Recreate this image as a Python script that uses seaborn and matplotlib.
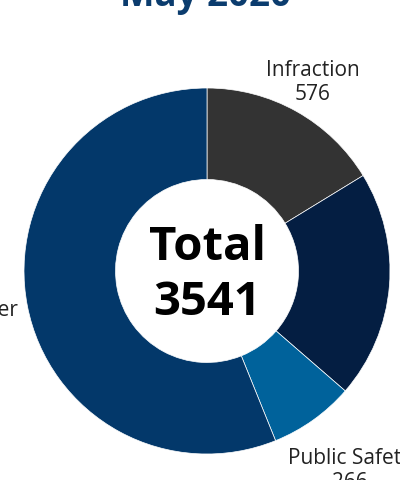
import matplotlib
matplotlib.use("Agg")
import matplotlib.pyplot as plt
import numpy as np
import seaborn as sns

# data (clockwise from 12 o'clock)
categories = ["Infraction", "Misdemeanor", "Public Safety", "Traffic Offender"]
counts = [576, 712, 266, 1987]
colors = ["#333333", "#041e42", "#00629b", "#03386a"]
title = "May 2020"

sns.set_theme(style="white")
plt.rcParams["font.family"] = ["Open Sans", "DejaVu Sans"]

W, H = 400, 480
CX, CY, R_PX = 207, 271, 183  # pie centre and radius in pixels

fig = plt.figure(figsize=(W / 100, H / 100), dpi=100)
ax = fig.add_axes([0, 0, 1, 1])

wedges, _ = ax.pie(
    counts,
    colors=colors,
    startangle=90,
    counterclock=False,
    radius=1.0,
    wedgeprops=dict(width=0.5, edgecolor="white", linewidth=0.5),
)

# one data unit == pie radius
ax.set_xlim(-CX / R_PX, (W - CX) / R_PX)
ax.set_ylim(-(H - CY) / R_PX, CY / R_PX)
ax.set_aspect("auto")
ax.axis("off")

total = sum(counts)
ax.text(0, -0.02, f"Total\n{total}", ha="center", va="center",
        fontsize=34, fontweight="bold", color="black", linespacing=1.22)

ax.text(-0.01, (CY - 6) / R_PX, title, ha="center", va="baseline",
        fontsize=26.5, fontweight="bold", color="#0b3c6e")

# outside labels, pushed out so their box just clears the ring
renderer = fig.canvas.get_renderer()
for w, name, val in zip(wedges, categories, counts):
    theta = np.deg2rad((w.theta1 + w.theta2) / 2)
    dx, dy = np.cos(theta), np.sin(theta)
    t = ax.text(0, 0, f"{name}\n{val}", ha="center", va="center",
                fontsize=15, color="#222222", linespacing=1.2,
                multialignment="center")
    bb = t.get_window_extent(renderer=renderer)
    hw = bb.width / 2 / R_PX
    hh = bb.height / 2 / R_PX
    gap = -0.05 if dy > 0 else 0.045
    r = 1.0 + hw * abs(dx) + hh * abs(dy) + gap
    t.set_position((r * dx, r * dy))

fig.savefig("out.png", dpi=100)
